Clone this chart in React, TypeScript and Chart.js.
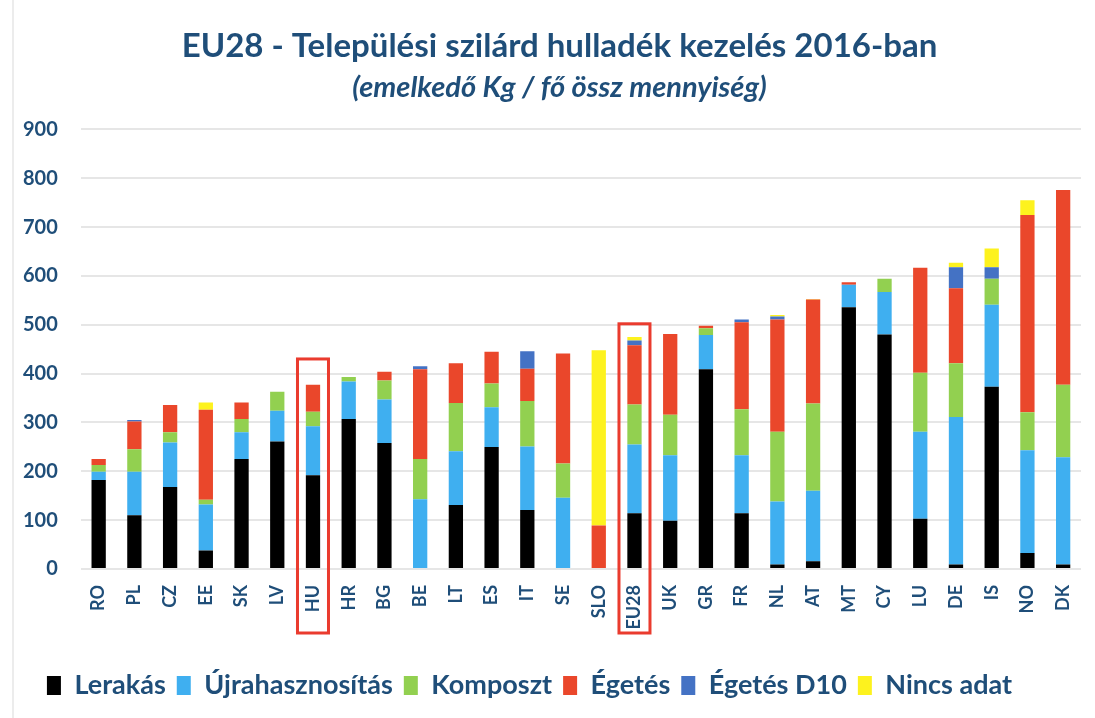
import React, { useEffect, useRef } from "react";
import { Chart, registerables } from "chart.js";

Chart.register(...registerables);

const categories = ["RO","PL","CZ","EE","SK","LV","HU","HR","BG","BE","LT","ES","IT","SE","SLO","EU28","UK","GR","FR","NL","AT","MT","CY","LU","DE","IS","NO","DK"];

const lerakas = [182,110,168,38,225,261,192,307,258,0,131,250,121,0,0,114,99,409,114,9,16,536,480,103,9,373,33,9];
const ujrahasznositas = [17,89,91,94,55,63,100,77,89,143,110,81,130,146,0,141,134,70,119,129,144,46,87,178,302,168,210,220];
const komposzt = [14,46,21,10,27,39,30,9,39,82,99,49,93,70,0,82,83,14,94,143,179,0,27,121,110,53,78,148];
const egetes = [12,57,56,184,34,0,55,0,18,184,81,65,66,225,89,121,165,5,178,230,213,5,0,215,154,0,404,399];
const egetesD10 = [0,3,0,0,0,0,0,0,0,6,0,0,36,0,0,10,0,0,6,6,0,0,0,0,43,24,0,0];
const nincsAdat = [0,0,0,15,0,0,0,0,0,0,0,0,0,0,359,7,0,0,0,3,1,0,0,0,9,38,30,0];

const seriesNames = ["Lerakás","Újrahasznosítás","Komposzt","Égetés","Égetés D10","Nincs adat"];
const seriesColors = ["#000000","#3faff0","#92d050","#ea472b","#4472c4","#fdf21e"];

const highlightCats = ["HU","EU28"];
const highlightTops = [430, 502];

const yTicks = [0,100,200,300,400,500,600,700,800,900];

const TITLE = "EU28 - Települési szilárd hulladék kezelés 2016-ban";
const SUBTITLE = "(emelkedő Kg / fő össz mennyiség)";

const TEXT = "#1f4e79";
const FONT = "Lato";

export default function App() {
  const ref = useRef<HTMLCanvasElement | null>(null);
  useEffect(() => {
    if (!ref.current) return;
    const highlightPlugin = {
      id: "highlight",
      afterLayout(chart: any) {
        chart.boxes.forEach((b: any) => {
          const t = b.options && b.options.text;
          if (t === TITLE || t === SUBTITLE) {
            b.left += 19;
            b.right += 19;
          }
        });
        if (chart.legend) {
          chart.legend.left -= 11;
          chart.legend.right -= 11;
        }
      },
      beforeDraw(chart: any) {
        const ctx = chart.ctx;
        ctx.save();
        ctx.fillStyle = "#ffffff";
        ctx.fillRect(0, 0, chart.width, chart.height);
        ctx.strokeStyle = "#e6e6e6";
        ctx.lineWidth = 1.5;
        ctx.beginPath();
        ctx.moveTo(13, 0);
        ctx.lineTo(13, chart.height);
        ctx.stroke();
        ctx.restore();
      },
      afterDraw(chart: any) {
        const ctx = chart.ctx;
        const xs = chart.scales.x;
        const ys = chart.scales.y;
        ctx.save();
        ctx.strokeStyle = "#ea3b2e";
        ctx.lineWidth = 3;
        highlightCats.forEach((c, i) => {
          const idx = categories.indexOf(c);
          const cx = xs.getPixelForValue(idx);
          const top = ys.getPixelForValue(highlightTops[i]);
          const bottom = chart.chartArea.bottom + 64;
          ctx.strokeRect(cx - 15.5, top, 31, bottom - top);
        });
        ctx.restore();
      },
    };
    const data = [lerakas, ujrahasznositas, komposzt, egetes, egetesD10, nincsAdat];
    const chart = new Chart(ref.current, {
      type: "bar",
      data: {
        labels: categories,
        datasets: data.map((d, i) => ({
          label: seriesNames[i],
          data: d,
          backgroundColor: seriesColors[i],
          borderWidth: 0,
          barPercentage: 0.4,
          categoryPercentage: 1,
        })),
      },
      options: {
        responsive: true,
        maintainAspectRatio: false,
        animation: false,
        layout: { padding: { top: 27, left: 0, right: 14, bottom: 9 } },
        plugins: {
          title: {
            display: true,
            text: TITLE,
            color: TEXT,
            font: { family: FONT, size: 33, weight: "bold" },
            padding: { top: 0, bottom: 4 },
          },
          subtitle: {
            display: true,
            text: SUBTITLE,
            color: TEXT,
            font: { family: FONT, size: 29, weight: "bold", style: "italic" },
            padding: { top: 0, bottom: 24 },
          },
          legend: {
            position: "bottom",
            labels: {
              color: TEXT,
              font: { family: FONT, size: 27, weight: "bold" },
              boxWidth: 14,
              boxHeight: 19,
              padding: 11,
            },
          },
          tooltip: { enabled: false },
        },
        scales: {
          x: {
            stacked: true,
            grid: { display: false },
            border: { display: false },
            afterFit(scale: any) {
              scale.height = 92;
            },
            ticks: {
              color: TEXT,
              font: { family: FONT, size: 18, weight: "bold" },
              maxRotation: 90,
              minRotation: 90,
              autoSkip: false,
              padding: 8,
            },
          },
          y: {
            stacked: true,
            min: 0,
            max: 900,
            afterBuildTicks(scale: any) {
              scale.ticks = yTicks.map((v) => ({ value: v }));
            },
            grid: { color: "#e6e6e6", lineWidth: 2, drawTicks: false },
            border: { display: false },
            ticks: {
              color: TEXT,
              font: { family: FONT, size: 20, weight: "bold" },
              padding: 23,
            },
          },
        },
      },
      plugins: [highlightPlugin],
    } as any);
    return () => chart.destroy();
  }, []);
  return (
    <div style={{ position: "absolute", left: 0, top: 0, width: 1095, height: 718 }}>
      <canvas ref={ref} />
    </div>
  );
}
